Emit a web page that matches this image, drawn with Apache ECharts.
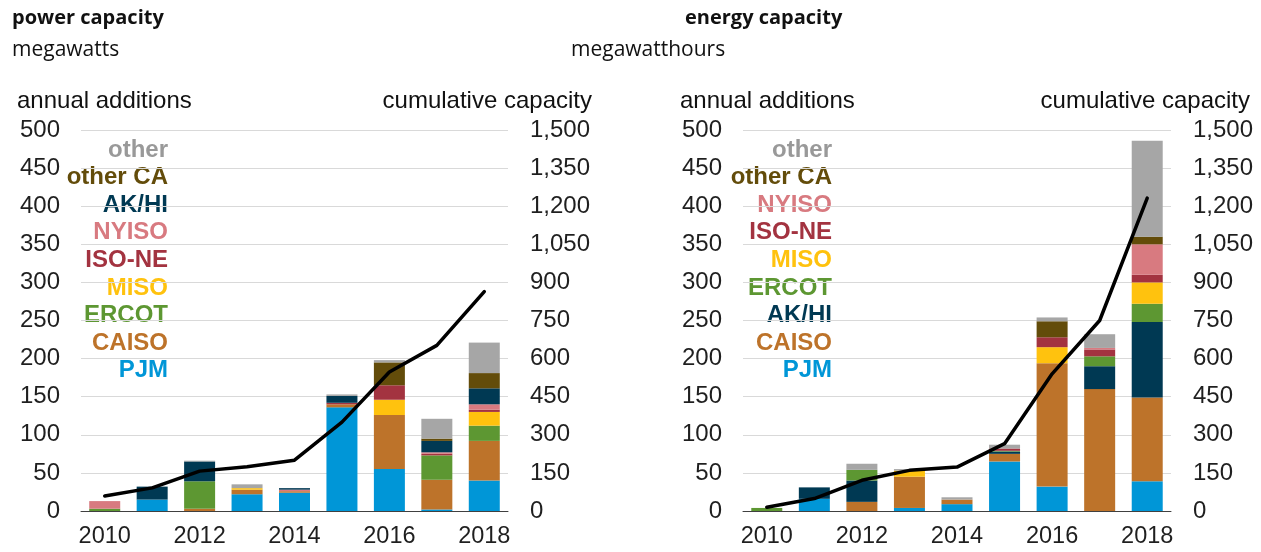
<!DOCTYPE html>
<html>
<head>
<meta charset="utf-8">
<script src="https://cdn.jsdelivr.net/npm/echarts@6/dist/echarts.min.js"></script>
<style>
  html, body { margin: 0; padding: 0; background: #fff; }
  #chart { width: 1261px; height: 552px; }
</style>
</head>
<body>
<div id="chart"></div>
<script>
// categories
const years = ['2010', '2011', '2012', '2013', '2014', '2015', '2016', '2017', '2018']

// power capacity, annual additions (MW)
const powerPJM = [0, 15, 0, 22, 24, 136, 55, 2, 40]
const powerCAISO = [0, 0, 3, 6, 2, 4, 71, 39, 52]
const powerERCOT = [3, 0, 36, 0, 0, 0, 0, 32, 20]
const powerMISO = [0, 0, 0, 2, 0, 0, 20, 0, 18]
const powerISONE = [0, 0, 0, 0, 0, 2, 19, 2, 3]
const powerNYISO = [10, 0, 0, 0, 2, 0, 0, 2, 7]
const powerAKHI = [0, 17, 26, 0, 2, 9, 0, 15, 21]
const powerOtherCA = [0, 0, 0, 0, 0, 0, 30, 3, 20]
const powerOther = [0, 0, 1, 5, 0, 2, 3, 26, 40]
// power capacity, cumulative (MW)
const powerCumulative = [59, 91, 157, 174, 200, 350, 547, 652, 864]

// energy capacity, annual additions (MWh)
const energyPJM = [0, 16, 0, 4, 9, 65, 32, 0, 39]
const energyCAISO = [0, 0, 12, 41, 6, 10, 162, 160, 110]
const energyAKHI = [0, 15, 28, 0, 0, 3, 0, 30, 99]
const energyERCOT = [4, 0, 14, 0, 0, 1, 0, 13, 24]
const energyMISO = [0, 0, 0, 8, 0, 0, 21, 0, 28]
const energyISONE = [0, 0, 0, 0, 0, 3, 13, 9, 10]
const energyNYISO = [0, 0, 0, 0, 0, 0, 0, 2, 40]
const energyOtherCA = [0, 0, 0, 0, 0, 0, 21, 0, 10]
const energyOther = [0, 0, 8, 2, 3, 5, 5, 18, 126]
// energy capacity, cumulative (MWh)
const energyCumulative = [15, 49, 121, 160, 173, 265, 540, 750, 1232]

// axis ticks
const additionsMax = 500
const additionsStep = 50
const cumulativeMax = 1500
const cumulativeStep = 150

const colors = {
  'PJM': '#0096d7',
  'CAISO': '#bd732a',
  'ERCOT': '#5d9732',
  'MISO': '#ffc20e',
  'ISO-NE': '#a33340',
  'NYISO': '#d87a80',
  'AK/HI': '#003953',
  'other CA': '#634c0a',
  'other': '#a6a6a6'
}

// bottom-to-top stack order
const powerStack = [
  ['PJM', powerPJM], ['CAISO', powerCAISO], ['ERCOT', powerERCOT], ['MISO', powerMISO],
  ['ISO-NE', powerISONE], ['NYISO', powerNYISO], ['AK/HI', powerAKHI],
  ['other CA', powerOtherCA], ['other', powerOther]
]
const energyStack = [
  ['PJM', energyPJM], ['CAISO', energyCAISO], ['AK/HI', energyAKHI], ['ERCOT', energyERCOT],
  ['MISO', energyMISO], ['ISO-NE', energyISONE], ['NYISO', energyNYISO],
  ['other CA', energyOtherCA], ['other', energyOther]
]

const AXIS_FONT = 'Liberation Sans, Arial, sans-serif'
const labelColor = '#1f1f1f'

function barSeries(stack, gridIndex) {
  return stack.map(([name, data]) => ({
    name,
    type: 'bar',
    stack: 'g' + gridIndex,
    xAxisIndex: gridIndex,
    yAxisIndex: gridIndex * 2,
    data,
    barWidth: 31,
    itemStyle: { color: colors[name] },
    emphasis: { disabled: true }
  }))
}

function lineSeries(data, gridIndex) {
  return {
    type: 'line',
    xAxisIndex: gridIndex,
    yAxisIndex: gridIndex * 2 + 1,
    data,
    symbol: 'none',
    z: 5,
    lineStyle: { color: '#000', width: 3.5, cap: 'round', join: 'round' },
    emphasis: { disabled: true }
  }
}

function xAxis(gridIndex) {
  return {
    type: 'category',
    gridIndex,
    data: years,
    axisLine: { lineStyle: { color: '#404040', width: 1 } },
    axisTick: { interval: 1, length: 8, lineStyle: { color: '#404040' } },
    axisLabel: { interval: 1, margin: 14, fontSize: 23.5, fontFamily: AXIS_FONT, color: labelColor }
  }
}

function yAxes(gridIndex) {
  return [
    {
      type: 'value',
      gridIndex,
      position: 'left',
      min: 0,
      max: additionsMax,
      interval: additionsStep,
      axisLine: { show: false },
      axisTick: { show: false },
      axisLabel: { margin: 21, fontSize: 24, fontFamily: AXIS_FONT, color: labelColor, padding: [4, 0, 0, 0] },
      splitLine: { lineStyle: { color: '#d9d9d9', width: 1 } }
    },
    {
      type: 'value',
      gridIndex,
      position: 'right',
      min: 0,
      max: cumulativeMax,
      interval: cumulativeStep,
      axisLine: { show: false },
      axisTick: { show: false },
      splitLine: { show: false },
      axisLabel: {
        margin: 22,
        fontSize: 24,
        fontFamily: AXIS_FONT,
        color: labelColor,
        padding: [4, 0, 0, 0],
        formatter: (v) => v.toLocaleString('en-US')
      }
    }
  ]
}

function legendTexts(stack, rightX) {
  return stack.slice().reverse().map(([name], i) => ({
    type: 'text',
    x: rightX,
    y: 150 + i * 27.6,
    style: {
      text: name,
      fill: name === 'other' ? '#999999' : colors[name],
      font: 'bold 24px ' + AXIS_FONT,
      align: 'right',
      verticalAlign: 'middle'
    }
  }))
}

function label(text, x, y, font, align) {
  return {
    type: 'text',
    x,
    y,
    style: { text, fill: '#111', font, align: align || 'left', verticalAlign: 'middle' }
  }
}

const chart = echarts.init(document.getElementById('chart'))

chart.setOption({
  animation: false,
  grid: [
    { left: 81, top: 130, width: 427, height: 381 },
    { left: 743, top: 130, width: 428, height: 381 }
  ],
  xAxis: [xAxis(0), xAxis(1)],
  yAxis: [...yAxes(0), ...yAxes(1)],
  series: [
    ...barSeries(powerStack, 0),
    lineSeries(powerCumulative, 0),
    ...barSeries(energyStack, 1),
    lineSeries(energyCumulative, 1)
  ],
  graphic: [
    label('power capacity', 12, 18, 'bold 20px Open Sans, sans-serif'),
    label('megawatts', 12, 50, '21px Open Sans, sans-serif'),
    label('energy capacity', 685, 18, 'bold 20px Open Sans, sans-serif'),
    label('megawatthours', 571, 50, '21px Open Sans, sans-serif'),
    label('annual additions', 17, 101, '24px ' + AXIS_FONT),
    label('cumulative capacity', 592, 101, '24px ' + AXIS_FONT, 'right'),
    label('annual additions', 680, 101, '24px ' + AXIS_FONT),
    label('cumulative capacity', 1250, 101, '24px ' + AXIS_FONT, 'right'),
    ...legendTexts(powerStack, 168),
    ...legendTexts(energyStack, 832)
  ]
})
</script>
</body>
</html>
